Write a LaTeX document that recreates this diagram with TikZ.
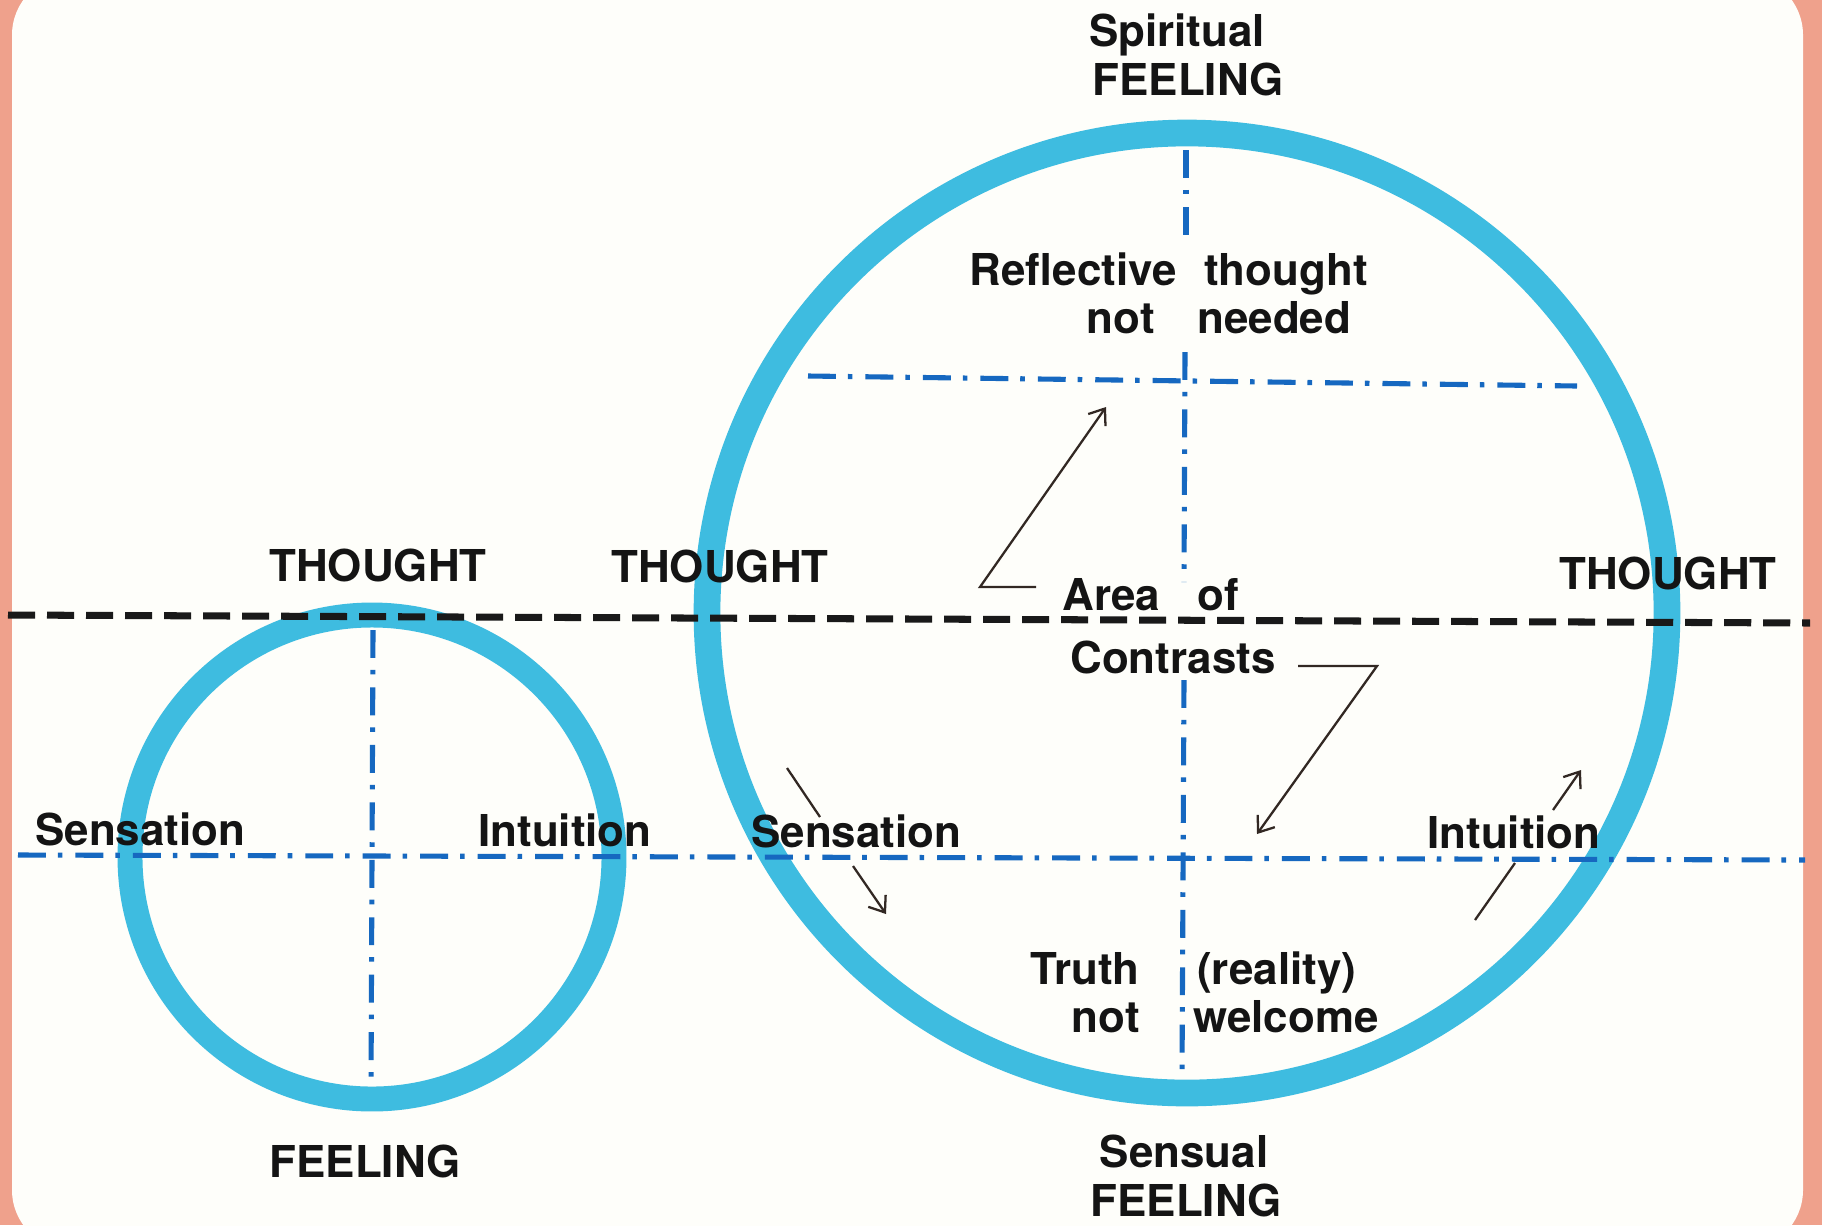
\documentclass[tikz,border=0pt]{standalone}
\usepackage{fontspec}
\setmainfont{TeX Gyre Heros}
\usetikzlibrary{arrows.meta}
\definecolor{salmon}{RGB}{239,161,140}
\definecolor{paper}{RGB}{254,254,250}
\definecolor{ring}{RGB}{62,188,224}
\definecolor{axis}{RGB}{22,104,192}
\definecolor{ink}{RGB}{20,20,20}
\definecolor{pen}{RGB}{50,40,35}
\begin{document}
\begin{tikzpicture}[x=0.02cm,y=-0.02cm,
  lbl/.style={inner sep=0pt, text=ink, font=\fontsize{25}{28}\selectfont\bfseries},
  ringline/.style={draw=ring, line width=15.2pt},
  dashdot/.style={draw=axis, line width=2.9pt, dash pattern=on 15.9pt off 6.8pt on 2.6pt off 7.4pt},
  blackdash/.style={draw=black!90, line width=4pt, dash pattern=on 15.4pt off 6.8pt},
  pointer/.style={draw=pen, line width=1.3pt, line join=miter},
  tip/.style={-{Straight Barb[length=8pt,width=12pt,line width=1.3pt]}}
]
\useasboundingbox (0,0) rectangle (1822,1225);
\fill[salmon] (0,0) rectangle (1822,1225);
\fill[paper, rounded corners=1.2cm] (12,-25) rectangle (1803,1250);

% rings
\draw[ringline] (1187,613) circle[radius=480];
\draw[ringline, line width=14.2pt] (372,857) circle[radius=242];

% coordinates for axis lines
\coordinate (bdL) at (8,615);
\coordinate (bdR) at (1810,623);
\coordinate (ddL) at (18,855);
\coordinate (ddR) at (1805,860);
\coordinate (udL) at (808,376);
\coordinate (udR) at (1577,386);
\coordinate (v1) at (1186,150);
\coordinate (v2) at (1186,247);
\coordinate (v3) at (1185,352);
\coordinate (v4) at (1184,582);
\coordinate (v5) at (1184,680);
\coordinate (v6) at (1182,1077);
\coordinate (sv1) at (373,630);
\coordinate (sv2) at (371,1088);

\draw[dashdot] (udL) -- (udR);
\draw[dashdot] (v1) -- (v2);
\draw[dashdot] (v3) -- (v4);
\draw[dashdot] (v5) -- (v6);
\draw[dashdot] (sv1) -- (sv2);
\draw[dashdot] (ddL) -- (ddR);
\draw[blackdash] (bdL) -- (bdR);

% labels
\node[lbl, anchor=base] (spir) at (1177,46) {Spiritual};
\node[lbl, anchor=base] (feelT) at (1188,95) {FEELING};
\node[lbl, anchor=base east] (refl) at (1177,285) {Reflective};
\node[lbl, anchor=base west] (thou) at (1204,285) {thought};
\node[lbl, anchor=base east] (notT) at (1155,333) {not};
\node[lbl, anchor=base west] (need) at (1197,333) {needed};
\node[lbl, anchor=base] (thL) at (378,581) {THOUGHT};
\node[lbl, anchor=base] (thM) at (720,582) {THOUGHT};
\node[lbl, anchor=base] (thR) at (1668,589) {THOUGHT};
\node[lbl, anchor=base west] (area) at (1062,610) {Area};
\node[lbl, anchor=base west] (of) at (1197,610) {of};
\node[lbl, anchor=base west] (contr) at (1070,673) {Contrasts};
\node[lbl, anchor=base west] (sensL) at (35,845) {Sensation};
\node[lbl, anchor=base west] (intL) at (478,846) {Intuition};
\node[lbl, anchor=base west] (sensB) at (751,847) {Sensation};
\node[lbl, anchor=base west] (intR) at (1427,848) {Intuition};
\node[lbl, anchor=base east] (truth) at (1140,984) {Truth};
\node[lbl, anchor=base west] (real) at (1197,984) {(reality)};
\node[lbl, anchor=base east] (notB) at (1140,1032) {not};
\node[lbl, anchor=base west] (welc) at (1193,1032) {welcome};
\node[lbl, anchor=base] (feelS) at (365,1177) {FEELING};
\node[lbl, anchor=base] (sensu) at (1184,1167) {Sensual};
\node[lbl, anchor=base] (feelB) at (1186,1216) {FEELING};

% pointer arrows
\coordinate (a1s) at (1036,587);
\coordinate (a1k) at (980,587);
\coordinate (a1e) at (1106,407);
\draw[pointer, tip] (a1s) -- (a1k) -- (a1e);

\coordinate (a2s) at (1298,666);
\coordinate (a2k) at (1377,666);
\coordinate (a2e) at (1257,834);
\draw[pointer, tip] (a2s) -- (a2k) -- (a2e);

\coordinate (a3s) at (787,768);
\coordinate (a3m) at (820,817);
\coordinate (a3n) at (853,866);
\coordinate (a3e) at (886,914);
\draw[pointer] (a3s) -- (a3m);
\draw[pointer, tip] (a3n) -- (a3e);

\coordinate (a4s) at (1475,920);
\coordinate (a4m) at (1515,863);
\coordinate (a4n) at (1553,810);
\coordinate (a4e) at (1581,770);
\draw[pointer] (a4s) -- (a4m);
\draw[pointer, tip] (a4n) -- (a4e);
\end{tikzpicture}
\end{document}
